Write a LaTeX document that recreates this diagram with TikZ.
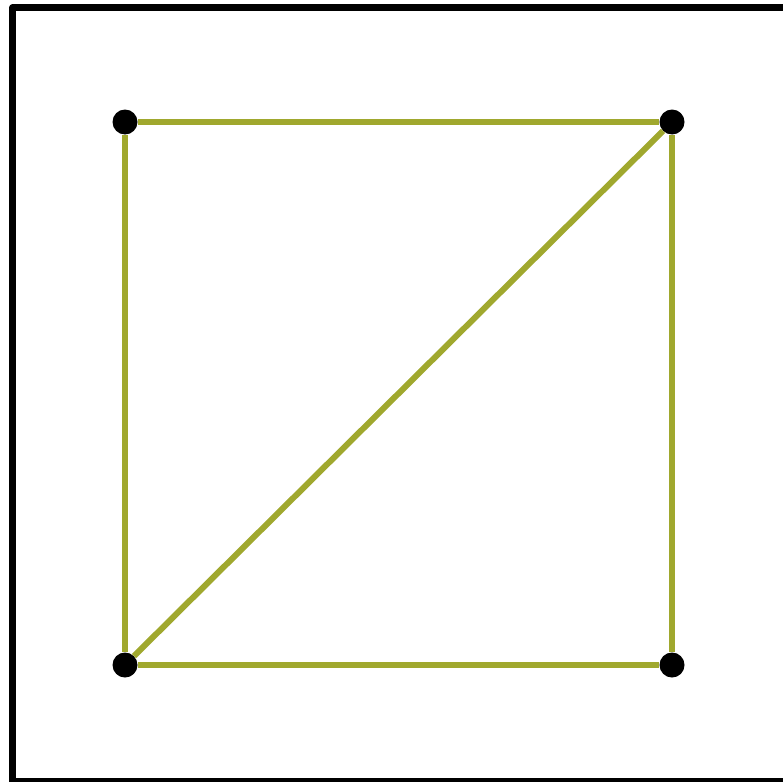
\documentclass[tikz,border=0pt]{standalone}
\definecolor{olive}{RGB}{160,168,46}
\tikzset{
  dot/.style={circle,fill=black,inner sep=0pt,minimum size=25pt},
  edge/.style={draw=olive,line width=6pt},
  frame/.style={draw=black,line width=7pt,line join=round}
}
\begin{document}
\begin{tikzpicture}[x=1pt,y=-1pt]
\useasboundingbox (0,0) rectangle (783,781);
\begin{scope}
\clip (0,0) rectangle (783,781);
\draw[frame] (12.5,8) rectangle (786,781);
\end{scope}
\node[dot] (tl) at (125,122) {};
\node[dot] (tr) at (672,122) {};
\node[dot] (bl) at (125,665) {};
\node[dot] (br) at (672,665) {};
\draw[edge] (tl) -- (tr);
\draw[edge] (tl) -- (bl);
\draw[edge] (tr) -- (br);
\draw[edge] (bl) -- (br);
\draw[edge] (bl) -- (tr);
\end{tikzpicture}
\end{document}
